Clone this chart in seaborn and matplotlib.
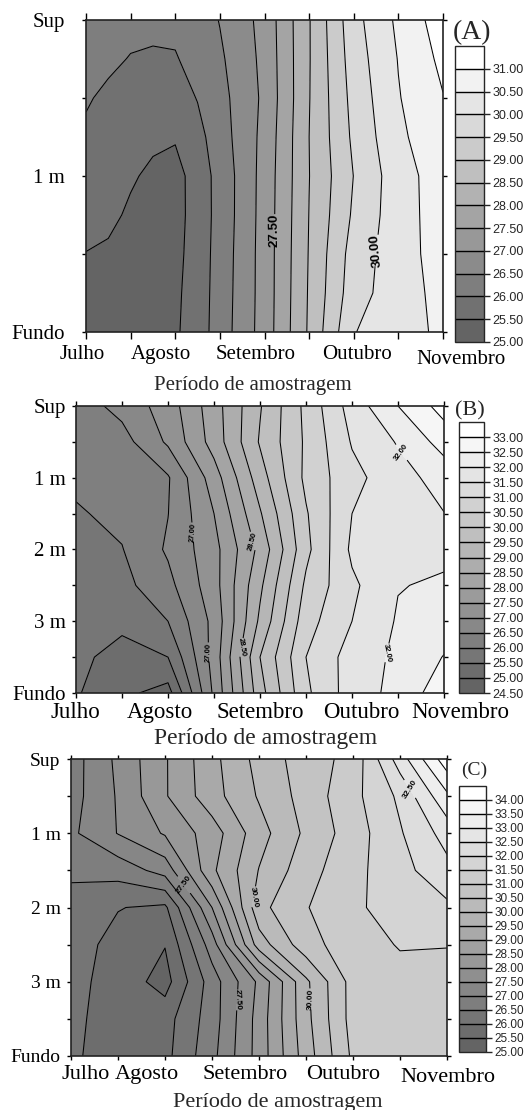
import numpy as np
import seaborn as sns
import matplotlib
matplotlib.use("Agg")
import matplotlib.pyplot as plt
import matplotlib.transforms as mtransforms

sns.set_style("ticks")
plt.rcParams["font.family"] = ["Liberation Serif", "DejaVu Serif"]

# ---------------- data ----------------
month_labels = ["Julho", "Agosto", "Setembro", "Outubro", "Novembro"]
month_ticks = [0.0, 0.5, 1.0, 1.5, 2.0, 2.5, 3.0, 3.5, 4.0]
x_months_a = [0.0, 0.25, 0.5, 0.75, 1.0, 1.25, 1.5, 2.0, 2.5, 3.0, 3.5, 4.0]
x_months_bc = [0.0, 0.5, 1.0, 1.5, 2.0, 2.5, 3.0, 3.5, 4.0]
depth_a = [0.0, 0.25, 0.5, 0.75, 1.0, 1.25, 1.5, 1.75, 2.0]
depth_bc = [0.0, 0.5, 1.0, 1.5, 2.0, 2.5, 3.0, 3.5, 4.0]
depth_ticks_a = [0.0, 0.5, 1.0, 1.5, 2.0]
depth_labels_a = ["Sup", "", "1 m", "", "Fundo"]
depth_labels_bc = ["Sup", "", "1 m", "", "2 m", "", "3 m", "", "Fundo"]
xlabel_text = "Período de amostragem"

# (A) temperature grid: rows = depth, cols = sampling period
temp_a = [
    [26.25, 26.20, 26.12, 26.10, 26.10, 26.25, 26.52, 27.16, 28.47, 29.83, 30.60, 31.27],
    [26.15, 26.08, 25.98, 25.95, 25.97, 26.15, 26.42, 27.13, 28.47, 29.75, 30.52, 31.12],
    [26.04, 25.92, 25.85, 25.80, 25.78, 26.02, 26.33, 27.10, 28.48, 29.67, 30.47, 30.98],
    [25.93, 25.85, 25.70, 25.60, 25.55, 25.85, 26.26, 27.15, 28.50, 29.60, 30.40, 30.85],
    [25.80, 25.75, 25.56, 25.40, 25.30, 25.75, 26.16, 27.19, 28.49, 29.51, 30.29, 30.75],
    [25.65, 25.62, 25.42, 25.30, 25.30, 25.74, 26.16, 27.20, 28.51, 29.58, 30.29, 30.73],
    [25.49, 25.42, 25.33, 25.30, 25.35, 25.74, 26.19, 27.21, 28.53, 29.72, 30.28, 30.72],
    [25.35, 25.30, 25.27, 25.32, 25.40, 25.75, 26.21, 27.21, 28.55, 29.79, 30.28, 30.65],
    [25.20, 25.20, 25.22, 25.35, 25.43, 25.76, 26.23, 27.22, 28.57, 29.98, 30.29, 30.60],
]
# (B)
temp_b = [
    [26.25, 26.66, 27.24, 28.28, 29.46, 30.63, 31.72, 32.50, 33.20],
    [26.15, 26.30, 27.08, 28.21, 29.55, 30.58, 31.54, 32.04, 32.70],
    [26.10, 26.25, 26.45, 27.76, 29.27, 30.62, 31.35, 31.81, 32.20],
    [25.95, 26.12, 26.49, 27.50, 28.95, 30.45, 31.50, 31.78, 31.99],
    [25.75, 25.98, 26.57, 27.33, 28.64, 30.36, 31.60, 31.75, 31.90],
    [25.70, 25.85, 26.35, 27.30, 28.90, 30.60, 31.40, 31.98, 32.06],
    [25.62, 25.60, 26.00, 27.15, 29.10, 30.80, 31.50, 32.05, 32.25],
    [25.60, 25.35, 25.50, 27.20, 29.50, 31.00, 31.72, 32.10, 32.52],
    [25.55, 25.12, 24.80, 27.10, 29.30, 30.90, 31.75, 32.15, 32.80],
]
# (C)
temp_c = [
    [26.77, 27.61, 28.45, 29.35, 30.17, 30.76, 31.16, 32.75, 34.30],
    [26.80, 27.55, 28.45, 29.30, 30.05, 30.70, 31.35, 32.10, 33.40],
    [26.90, 27.52, 28.05, 28.75, 29.80, 30.60, 31.25, 31.95, 32.70],
    [26.60, 26.70, 27.20, 28.90, 30.02, 30.80, 31.35, 31.83, 32.35],
    [26.30, 26.02, 25.90, 28.00, 30.35, 30.97, 31.42, 31.70, 31.90],
    [26.20, 25.85, 25.52, 27.25, 29.75, 30.80, 31.30, 31.53, 31.51],
    [26.15, 25.80, 25.30, 26.75, 28.10, 29.90, 31.20, 31.35, 31.40],
    [26.10, 25.80, 25.80, 26.75, 28.20, 29.85, 31.20, 31.30, 31.35],
    [26.10, 25.70, 25.85, 26.85, 28.20, 29.75, 31.10, 31.25, 31.30],
]
range_a = (25.0, 31.0)
range_b = (24.5, 33.0)
range_c = (25.0, 34.0)
clabel_levels_a = [27.5, 30.0]
clabel_levels_b = [27.0, 28.5, 32.0]
clabel_levels_c = [27.5, 30.0, 32.5]

# ---------------- figure ----------------
W, H, DPI = 524, 1110, 100
fig = plt.figure(figsize=(W / DPI, H / DPI), dpi=DPI)


def rect(x0, y0, x1, y1):
    return [x0 / W, 1 - y1 / H, (x1 - x0) / W, (y1 - y0) / H]


def shift(artist, dx, dy):
    artist.set_transform(artist.get_transform() +
                         mtransforms.ScaledTranslation(dx / DPI, -dy / DPI, fig.dpi_scale_trans))


def panel(ax_box, cax_box, xs, depths, yticks, ylabels, temps, vrange, cl_levels, cl_pos, cl_fs,
          flip_labels, x_fs, y_fs, xoffs, xlen, ylen, xpad, ypad, xl_fs, xl_pos,
          tag, tag_xy, tag_fs, cb_fs):
    ax = fig.add_axes(rect(*ax_box))
    Z = np.array(temps)
    lo, hi = vrange
    levels = np.arange(lo, hi + 0.25, 0.5)
    bounds = np.append(levels, hi + 10.0)
    greys = sns.blend_palette(["#646464", "#ffffff"], len(bounds) - 1)
    cf = ax.contourf(xs, depths, Z, levels=bounds, colors=greys)
    plain = [v for v in levels if v not in cl_levels]
    ax.contour(xs, depths, Z, levels=plain, colors="black", linewidths=0.75)
    cs_lab = ax.contour(xs, depths, Z, levels=cl_levels, colors="black", linewidths=0.75)
    txts = cs_lab.clabel(fmt="%.2f", fontsize=cl_fs, inline=True,
                         inline_spacing=1, manual=cl_pos)
    for t in txts:
        t.set_fontfamily("Liberation Sans")
        t.set_fontweight("bold")
        if flip_labels and t.get_rotation() > 180:
            t.set_rotation(t.get_rotation() - 180)
    ax.set_xlim(0, 4)
    ax.set_ylim(depths[-1], 0)
    xt = [month_labels[i // 2] if i % 2 == 0 else "" for i in range(len(month_ticks))]
    ax.set_xticks(month_ticks, xt)
    ax.set_yticks(yticks, ylabels)
    ax.tick_params(axis="x", direction="out", top=True, bottom=True, length=xlen,
                   width=1, labelsize=x_fs, pad=xpad, colors="black")
    ax.tick_params(axis="y", direction="out", left=True, right=True, length=ylen,
                   width=1, labelsize=y_fs, pad=ypad, colors="black")
    labs = ax.get_xticklabels()
    for k, (dx, dy) in enumerate(xoffs):
        shift(labs[2 * k], dx, dy)
    for s in ax.spines.values():
        s.set_linewidth(1.2)
        s.set_color("#222222")
    ax.set_xlabel(xlabel_text, fontsize=xl_fs)
    ax.xaxis.set_label_coords(*xl_pos)
    ax.xaxis.label.set_va("center")

    cax = fig.add_axes(rect(*cax_box))
    cb = fig.colorbar(cf, cax=cax, drawedges=True)
    cb.set_ticks(levels)
    cb.set_ticklabels([f"{v:.2f}" for v in levels])
    cb.ax.tick_params(length=4, width=1, direction="out", pad=2, labelsize=cb_fs)
    for t in cb.ax.get_yticklabels():
        t.set_fontfamily("Liberation Sans")
    cb.outline.set_linewidth(1.0)
    cb.dividers.set_color("black")
    cb.dividers.set_linewidth(1.0)
    fig.text(tag_xy[0] / W, 1 - tag_xy[1] / H, tag, ha="center", va="center", fontsize=tag_fs)
    return ax


def to_data(px, py, x0, x1, y0, y1, dmax):
    return ((px - x0) / (x1 - x0) * 4.0, (py - y0) / (y1 - y0) * dmax)


# Panel A
A = (86, 20, 443, 332)
pa = [(274, 230), (372, 250)]
panel(A, (455, 46, 484, 342), x_months_a, depth_a, depth_ticks_a, depth_labels_a, temp_a, range_a,
      clabel_levels_a, [to_data(x, y, 86, 443, 20, 332, 2) for x, y in pa], 9.5, True,
      15, 15, [(-4, 0), (-14, 0), (-9, 0), (3, 0), (18, 5)], 5, 3, 4, 12,
      15, (0.468, -0.17), "(A)", (472, 33), 20, 9)

# Panel B
B = (76, 406, 444, 693)
pb = [(193, 532), (208, 652), (287, 532), (270, 652), (398, 455), (383, 652)]
panel(B, (459, 422, 484, 693), x_months_bc, depth_bc, depth_bc, depth_labels_bc, temp_b, range_b,
      clabel_levels_b, [to_data(x, y, 76, 444, 406, 693, 4) for x, y in pb], 5.5, False,
      16.5, 15, [(-1, 0), (-8, 0), (0, 0), (9, 0), (16, 0)], 3.5, 3, 3, 4.5,
      17, (0.514, -0.157), "(B)", (470, 411), 16, 9)

# Panel C
C = (71, 759, 447, 1056)
pc = [(185, 884), (238, 1000), (249, 896), (310, 999), (405, 792)]
panel(C, (459, 786, 486, 1052), x_months_bc, depth_bc, depth_bc, depth_labels_bc, temp_c, range_c,
      clabel_levels_c, [to_data(x, y, 71, 447, 759, 1056, 4) for x, y in pc], 6, False,
      16, 14, [(15, 0), (-18, 0), (-14, 0), (-10, 0), (1, 3)], 3, 3, 3.5, 4.5,
      16, (0.55, -0.155), "(C)", (474, 770), 14, 8.5)

fig.savefig("out.png", dpi=DPI)
